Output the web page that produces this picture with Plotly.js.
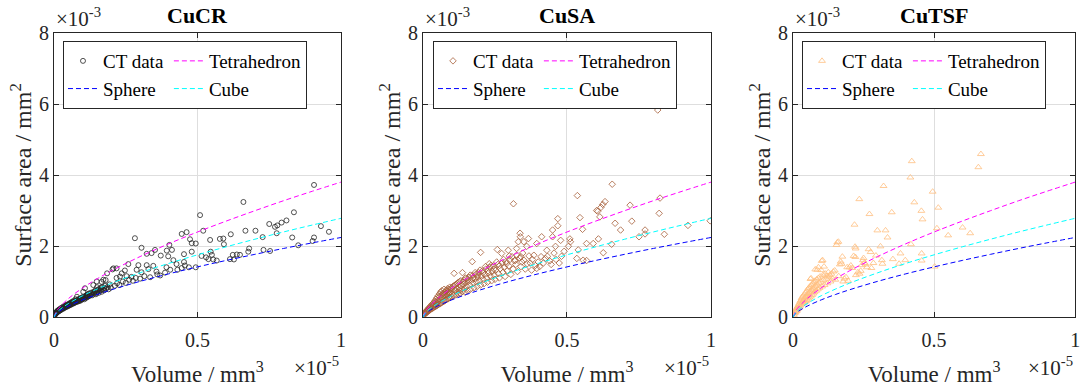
<!DOCTYPE html>
<html>
<head>
<meta charset="utf-8">
<script src="https://cdn.plot.ly/plotly-3.0.1.min.js"></script>
<style>html,body{margin:0;padding:0;background:#fff;}#chart{width:1086px;height:387px;}</style>
</head>
<body>
<div id="chart"></div>
<script>
// Units: volume in 1e-5 mm^3, surface area in 1e-3 mm^2
const panelTitles = ['CuCR', 'CuSA', 'CuTSF'];
const xTicks = [0, 0.5, 1];
const yTicks = [0, 2, 4, 6, 8];

// Model curves
const curveX  = [0, 0.01, 0.02, 0.05, 0.1, 0.15, 0.2, 0.3, 0.4, 0.5, 0.6, 0.7, 0.8, 0.9, 1.0];
const sphereY = [0, 0.104, 0.165, 0.304, 0.482, 0.632, 0.766, 1.004, 1.216, 1.411, 1.593, 1.765, 1.931, 2.088, 2.24];
const cubeY   = [0, 0.129, 0.205, 0.377, 0.599, 0.785, 0.951, 1.245, 1.510, 1.751, 1.977, 2.191, 2.396, 2.591, 2.78];
const tetraY  = [0, 0.176, 0.280, 0.516, 0.819, 1.073, 1.300, 1.702, 2.063, 2.394, 2.702, 2.994, 3.276, 3.542, 3.80];

// CT data, CuCR
const cucrX = [
0.002,0.004,0.005,0.007,0.008,0.010,0.011,0.012,0.014,0.015,
0.017,0.018,0.020,0.021,0.023,0.025,0.026,0.028,0.030,0.031,
0.033,0.035,0.036,0.038,0.040,0.041,0.043,0.045,0.046,0.048,
0.050,0.052,0.053,0.055,0.057,0.058,0.060,0.062,0.063,0.065,
0.067,0.068,0.070,0.072,0.074,0.075,0.077,0.079,0.080,0.082,
0.084,0.086,0.088,0.090,0.092,0.094,0.096,0.098,0.100,0.102,
0.104,0.106,0.108,0.110,0.112,0.114,0.116,0.118,0.120,0.122,
0.125,0.128,0.130,0.133,0.137,0.140,0.143,0.146,0.149,0.150,
0.153,0.156,0.160,0.163,0.166,0.170,0.172,0.175,0.178,0.182,
0.186,0.190,0.194,0.198,0.207,0.212,0.220,0.228,0.236,0.240,
0.250,0.262,0.275,0.285,0.300,0.315,0.335,0.360,0.370,
0.003,0.006,0.009,0.012,0.016,0.019,0.022,0.027,0.032,0.037,
0.042,0.047,0.051,0.056,0.061,0.066,0.071,0.076,0.081,0.085,
0.089,0.093,0.097,0.101,0.105,0.109,0.113,0.117,0.121,0.126,
0.131,0.135,0.139,0.144,0.148,0.152,0.158,0.164,0.168,0.176,
0.906,0.66,0.509,0.52,0.282,0.305,0.445,0.462,0.474,0.494,
0.48,0.544,0.578,0.59,0.592,0.616,0.667,0.702,0.727,0.75,
0.77,0.778,0.776,0.793,0.81,0.836,0.83,0.851,0.901,0.906,
0.93,0.958,0.68,0.677,0.73,0.753,0.623,0.637,0.648,0.613,
0.627,0.546,0.55,0.538,0.555,0.567,0.514,0.53,0.48,0.453,
0.453,0.47,0.494,0.402,0.411,0.393,0.372,0.352,0.34,0.323,
0.398,0.416,0.427,0.392,0.405,0.387,0.43,0.445,0.456,0.346,
0.323,0.329,0.357,0.305,0.294,0.288,0.259,0.247,0.27,0.23,
0.218,0.204,0.218,0.253,0.185,0.18,0.166,0.15];
const cucrY = [
0.05,0.08,0.11,0.10,0.13,0.14,0.17,0.13,0.16,0.19,
0.17,0.21,0.18,0.23,0.20,0.22,0.26,0.24,0.22,0.28,
0.26,0.25,0.31,0.28,0.27,0.33,0.30,0.29,0.35,0.32,
0.31,0.37,0.34,0.33,0.40,0.36,0.35,0.42,0.38,0.37,
0.45,0.40,0.39,0.43,0.41,0.50,0.44,0.42,0.57,0.46,
0.44,0.49,0.47,0.45,0.52,0.49,0.48,0.55,0.51,0.71,
0.53,0.50,0.81,0.57,0.54,0.60,0.56,0.64,0.58,0.62,
0.60,0.68,0.63,0.61,0.90,0.66,0.72,0.64,1.00,0.70,
0.77,0.68,0.74,0.82,0.71,0.78,1.05,0.75,0.88,0.80,
0.84,0.78,0.92,0.83,1.37,0.88,0.95,0.90,1.23,1.00,
0.96,1.05,1.02,1.10,1.08,1.15,1.12,1.20,1.17,
0.06,0.09,0.12,0.15,0.16,0.20,0.19,0.23,0.25,0.29,
0.31,0.33,0.35,0.38,0.39,0.42,0.42,0.46,0.47,0.50,
0.51,0.50,0.53,0.56,0.55,0.59,0.61,0.59,0.66,0.63,
0.66,0.70,0.69,0.75,0.68,0.73,0.79,0.76,0.85,0.82,
3.72,3.24,2.87,2.43,2.22,1.95,2.34,2.39,2.19,2.07,
2.08,2.17,2.20,2.21,2.05,2.33,2.43,2.43,2.25,2.62,
2.54,2.58,2.36,2.66,2.72,2.95,2.24,2.02,2.14,2.24,
2.56,2.40,1.93,1.84,1.89,1.86,1.75,1.76,1.75,1.63,
1.62,1.84,1.75,1.63,1.62,1.59,1.72,1.68,1.84,1.77,
1.55,1.40,1.40,2.03,1.89,1.87,1.73,1.89,1.80,1.78,
1.71,1.60,1.49,1.40,1.33,1.25,1.33,1.38,1.45,1.44,
1.46,1.35,1.28,1.26,1.46,1.33,1.49,1.31,1.13,1.14,
1.10,1.34,1.37,1.15,1.23,1.04,0.99,0.84];

// CT data, CuSA
const cusaX = [
0.003,0.005,0.006,0.008,0.009,0.010,0.012,0.013,0.014,0.016,
0.017,0.018,0.020,0.021,0.022,0.024,0.025,0.026,0.028,0.029,
0.030,0.032,0.033,0.034,0.036,0.037,0.038,0.040,0.041,0.042,
0.044,0.045,0.046,0.048,0.049,0.050,0.052,0.053,0.054,0.056,
0.057,0.058,0.060,0.061,0.062,0.064,0.065,0.066,0.068,0.069,
0.070,0.072,0.073,0.074,0.076,0.077,0.078,0.080,0.081,0.082,
0.084,0.085,0.086,0.088,0.089,0.090,0.092,0.093,0.094,0.096,
0.098,0.100,0.102,0.104,0.106,0.108,0.110,0.112,0.114,0.116,
0.118,0.120,0.122,0.124,0.126,0.128,0.130,0.132,0.134,0.137,
0.138,0.140,0.142,0.144,0.146,0.148,0.150,0.152,0.155,0.157,
0.160,0.162,0.165,0.168,0.171,0.172,0.174,0.177,0.180,0.183,
0.185,0.188,0.190,0.193,0.196,0.200,0.200,0.203,0.206,0.209,
0.212,0.215,0.218,0.221,0.224,0.227,0.230,0.232,0.235,0.238,
0.241,0.244,0.247,0.250,0.253,0.258,0.260,0.262,0.265,0.268,
0.273,0.275,0.278,0.282,0.285,0.288,0.292,0.296,0.298,0.302,
0.305,0.309,0.313,0.314,0.318,0.322,0.325,0.325,0.328,0.331,
0.335,0.337,0.338,0.340,0.343,0.346,0.350,0.350,0.355,0.360,
0.362,0.366,0.368,0.372,0.377,0.380,0.385,0.390,0.395,0.395,
0.400,0.405,0.410,0.412,0.418,0.425,0.430,0.432,0.440,0.445,
0.450,0.450,0.455,0.460,0.462,0.468,0.468,0.473,0.478,0.481,
0.490,0.505,0.510,0.512,0.534,0.536,0.539,0.545,0.554,0.556,
0.568,0.568,0.591,0.603,0.607,0.609,0.614,0.618,0.624,0.626,
0.632,0.655,0.657,0.667,0.686,0.719,0.725,0.750,0.771,0.771,
0.815,0.820,0.823,0.838,0.920,0.997,
0.015,0.027,0.035,0.043,0.051,0.059,0.067,0.075,0.083,0.091,
0.099,0.107,0.115,0.123,0.131,0.139,0.147,0.156,0.164,0.173,
0.181,0.190,0.198,0.208,0.217,0.226,0.236,0.246,0.256,0.266,
0.280,0.290,0.300,0.320,0.340];
const cusaY = [
0.05,0.08,0.11,0.09,0.14,0.12,0.15,0.19,0.13,0.17,
0.22,0.16,0.20,0.26,0.18,0.23,0.30,0.21,0.26,0.33,
0.23,0.29,0.37,0.25,0.31,0.40,0.27,0.34,0.45,0.29,
0.37,0.50,0.31,0.40,0.55,0.33,0.43,0.60,0.35,0.46,
0.65,0.37,0.50,0.70,0.39,0.54,0.74,0.41,0.57,0.66,
0.43,0.61,0.78,0.45,0.64,0.70,0.47,0.58,0.75,0.49,
0.62,0.80,0.51,0.66,0.72,0.53,0.69,0.84,0.55,0.72,
0.78,0.57,0.65,0.86,0.60,1.23,0.75,0.90,0.62,0.80,
0.70,0.95,0.64,0.84,0.76,1.00,0.67,0.88,0.79,1.25,
0.72,0.92,1.03,0.80,0.70,0.97,1.08,0.86,0.74,1.00,
1.12,0.90,0.78,1.04,1.56,1.17,0.95,0.82,1.08,1.20,
0.99,0.86,1.12,1.25,1.02,1.82,0.90,1.15,1.30,1.06,
0.94,1.20,1.35,1.10,0.98,1.24,1.50,1.40,1.14,1.02,
1.28,1.44,1.18,1.06,1.32,1.90,1.48,1.22,1.10,1.36,
1.79,1.52,1.26,1.40,1.14,1.56,1.30,1.88,1.44,1.62,
1.20,1.70,1.35,3.19,1.58,1.48,1.93,1.74,1.28,2.12,
1.66,2.36,2.26,1.42,1.55,1.80,2.12,1.60,1.35,1.99,
1.50,2.21,1.72,1.52,1.32,1.62,1.74,1.45,2.07,1.37,
1.55,1.42,1.70,2.26,1.52,1.65,1.88,1.71,1.58,1.48,
2.45,2.26,1.80,1.99,1.62,2.77,2.57,1.52,2.16,1.71,
1.85,1.99,2.20,2.12,1.65,3.42,1.89,2.80,2.47,1.60,
1.59,2.07,2.07,3.00,2.98,2.20,2.82,3.09,3.17,1.81,
3.25,2.05,3.74,2.64,2.45,3.15,2.70,2.26,2.45,2.34,
5.83,2.92,3.35,2.33,2.58,2.71,
0.18,0.28,0.33,0.42,0.47,0.58,0.62,0.68,0.74,0.78,
0.82,0.88,0.92,0.98,1.02,0.98,1.10,1.05,1.18,1.10,
1.25,1.18,1.32,1.25,1.42,1.30,1.45,1.35,1.55,1.45,
1.62,1.50,1.72,1.60,1.70];

// CT data, CuTSF
const cutsfX = [
0.003,0.005,0.006,0.008,0.009,0.010,0.012,0.013,0.014,0.016,
0.017,0.018,0.020,0.021,0.022,0.024,0.025,0.026,0.028,0.029,
0.030,0.032,0.033,0.034,0.036,0.037,0.038,0.040,0.041,0.042,
0.044,0.045,0.046,0.048,0.049,0.050,0.052,0.053,0.054,0.056,
0.057,0.058,0.060,0.061,0.062,0.063,0.064,0.065,0.066,0.068,
0.070,0.071,0.072,0.074,0.075,0.076,0.078,0.079,0.080,0.082,
0.084,0.085,0.086,0.088,0.090,0.090,0.092,0.094,0.096,0.098,
0.100,0.102,0.103,0.105,0.106,0.108,0.110,0.112,0.115,0.118,
0.120,0.122,0.125,0.128,0.130,0.133,0.136,0.140,0.143,0.148,
0.150,0.154,0.157,0.161,0.162,0.166,0.169,0.172,0.175,0.178,
0.182,0.188,0.192,0.195,0.200,0.205,0.210,0.215,0.218,0.220,
0.221,0.222,0.223,0.230,0.235,0.236,0.240,0.244,0.248,0.250,
0.253,0.258,0.262,0.268,0.271,0.275,0.278,0.285,0.294,0.299,
0.310,0.315,0.317,0.321,0.328,0.335,0.350,0.354,0.376,0.381,
0.398,0.416,0.418,0.421,0.430,0.455,0.456,0.456,0.459,0.495,
0.502,0.510,0.515,0.550,0.601,0.628,0.635,0.657,0.666];
const cutsfY = [
0.06,0.10,0.14,0.12,0.18,0.15,0.22,0.17,0.26,0.21,
0.30,0.24,0.34,0.27,0.38,0.30,0.43,0.33,0.47,0.36,
0.52,0.40,0.56,0.44,0.60,0.48,0.38,0.64,0.52,0.42,
0.68,0.56,0.45,0.72,0.60,0.48,0.78,0.64,0.52,0.82,
0.68,0.55,0.86,0.72,1.07,0.58,1.09,0.90,0.76,0.62,
0.94,0.80,0.66,0.98,0.84,0.70,1.02,1.34,0.88,0.74,
1.06,0.92,1.33,0.78,1.40,1.10,0.96,0.82,1.14,1.00,
1.32,1.58,0.86,1.60,1.18,1.04,1.42,0.90,1.22,1.08,
1.15,0.95,1.26,1.12,1.18,1.00,1.22,1.08,1.28,1.31,
1.05,2.03,2.10,2.12,1.15,1.48,1.56,1.50,1.70,1.00,
1.08,1.12,1.40,1.02,1.40,1.45,1.38,1.72,2.60,1.98,
1.69,1.93,1.18,1.26,3.32,1.22,1.30,1.46,1.60,1.66,
1.52,1.48,1.40,1.91,2.90,1.83,1.38,1.52,1.73,2.44,
1.99,1.60,1.50,3.69,2.44,2.24,2.95,1.63,1.50,1.79,
1.60,3.93,2.05,4.39,3.23,2.99,1.79,1.59,2.75,3.53,
1.42,2.50,3.08,2.30,2.52,2.36,5.95,4.22,4.59];

const FONT = 'Liberation Serif';
const AX = '#262626';
const ctData = [
  {x: cucrX, y: cucrY, symbol: 'circle-open', color: '#262626', size: 5},
  {x: cusaX, y: cusaY, symbol: 'diamond-open', color: '#A65E38', size: 5},
  {x: cutsfX, y: cutsfY, symbol: 'triangle-up-open', color: '#FFBF80', size: 6}
];
const xDomains = [[0.0497, 0.3140], [0.3895, 0.6547], [0.7302, 0.9900]];
const yDomain = [0.1809, 0.9147];
const legendX = [0.058, 0.3987, 0.7385];

const traces = [];
const layout = {
  width: 1086, height: 387,
  margin: {l: 0, r: 0, t: 0, b: 0},
  paper_bgcolor: '#fff', plot_bgcolor: '#fff',
  font: {family: FONT, color: '#000', size: 19},
  showlegend: true,
  annotations: []
};

for (let i = 0; i < 3; i++) {
  const sfx = i === 0 ? '' : String(i + 1);
  const xa = 'x' + sfx, ya = 'y' + sfx, lg = 'legend' + sfx;
  const d = ctData[i];
  traces.push({x: d.x, y: d.y, xaxis: xa, yaxis: ya, type: 'scatter', mode: 'markers',
    name: 'CT data', legend: lg, legendgroup: 'g1' + i,
    marker: {symbol: d.symbol, size: d.size, color: d.color, line: {color: d.color, width: 0.8}}});
  traces.push({x: curveX, y: tetraY, xaxis: xa, yaxis: ya, type: 'scatter', mode: 'lines',
    name: 'Tetrahedron', legend: lg, legendgroup: 'g2' + i,
    line: {color: '#FF00FF', width: 1, dash: '5px,3px', shape: 'spline'}});
  traces.push({x: curveX, y: sphereY, xaxis: xa, yaxis: ya, type: 'scatter', mode: 'lines',
    name: 'Sphere', legend: lg, legendgroup: 'g1' + i,
    line: {color: '#0000FF', width: 1, dash: '5px,3px', shape: 'spline'}});
  traces.push({x: curveX, y: cubeY, xaxis: xa, yaxis: ya, type: 'scatter', mode: 'lines',
    name: 'Cube', legend: lg, legendgroup: 'g2' + i,
    line: {color: '#00FFFF', width: 1, dash: '5px,3px', shape: 'spline'}});

  const common = {showline: true, linecolor: AX, linewidth: 1, mirror: 'ticks',
    ticks: 'inside', ticklen: 5, tickwidth: 1, tickcolor: AX,
    showgrid: true, gridcolor: '#dedede', gridwidth: 1, zeroline: false,
    ticklabeloverflow: 'allow',
    tickfont: {family: FONT, size: 20, color: '#262626'}, fixedrange: true};
  layout['xaxis' + sfx] = Object.assign({}, common, {
    domain: xDomains[i], anchor: ya, range: [0, 1], tickmode: 'array', tickvals: xTicks,
    ticktext: xTicks.map(String), ticklabelstandoff: 5,
    title: {text: 'Volume / mm<sup>3</sup>', font: {family: FONT, size: 23, color: '#262626'}, standoff: 16}
  });
  layout['yaxis' + sfx] = Object.assign({}, common, {
    domain: yDomain, anchor: xa, range: [0, 8], tickmode: 'array', tickvals: yTicks,
    ticktext: yTicks.map(String),
    title: {text: 'Surface area / mm<sup>2</sup>', font: {family: FONT, size: 24, color: '#262626'}, standoff: 0}
  });
  layout[lg] = {x: legendX[i], y: 0.894, xanchor: 'left', yanchor: 'top', orientation: 'h',
    traceorder: 'grouped', tracegroupgap: 0, bgcolor: '#fff', bordercolor: AX, borderwidth: 1,
    font: {family: FONT, size: 19, color: '#000'}, itemclick: false, itemdoubleclick: false};

  layout.annotations.push({text: '<b>' + panelTitles[i] + '</b>', xref: xa + ' domain', yref: ya + ' domain',
    x: 0.5, y: 1, xanchor: 'center', yanchor: 'bottom', yshift: 3, showarrow: false,
    font: {family: FONT, size: 22, color: '#000'}});
  layout.annotations.push({text: '\u00d710<sup>-3</sup>', xref: xa + ' domain', yref: ya + ' domain',
    x: 0, y: 1, xanchor: 'left', yanchor: 'bottom', xshift: 0, yshift: 0, showarrow: false,
    font: {family: FONT, size: 21, color: '#262626'}});
  layout.annotations.push({text: '\u00d710<sup>-5</sup>', xref: xa + ' domain', yref: ya + ' domain',
    x: 1, y: 0, xanchor: 'right', yanchor: 'middle', yshift: -50, showarrow: false,
    font: {family: FONT, size: 21, color: '#262626'}});
}

Plotly.newPlot('chart', traces, layout, {displayModeBar: false, staticPlot: true});
</script>
</body>
</html>
